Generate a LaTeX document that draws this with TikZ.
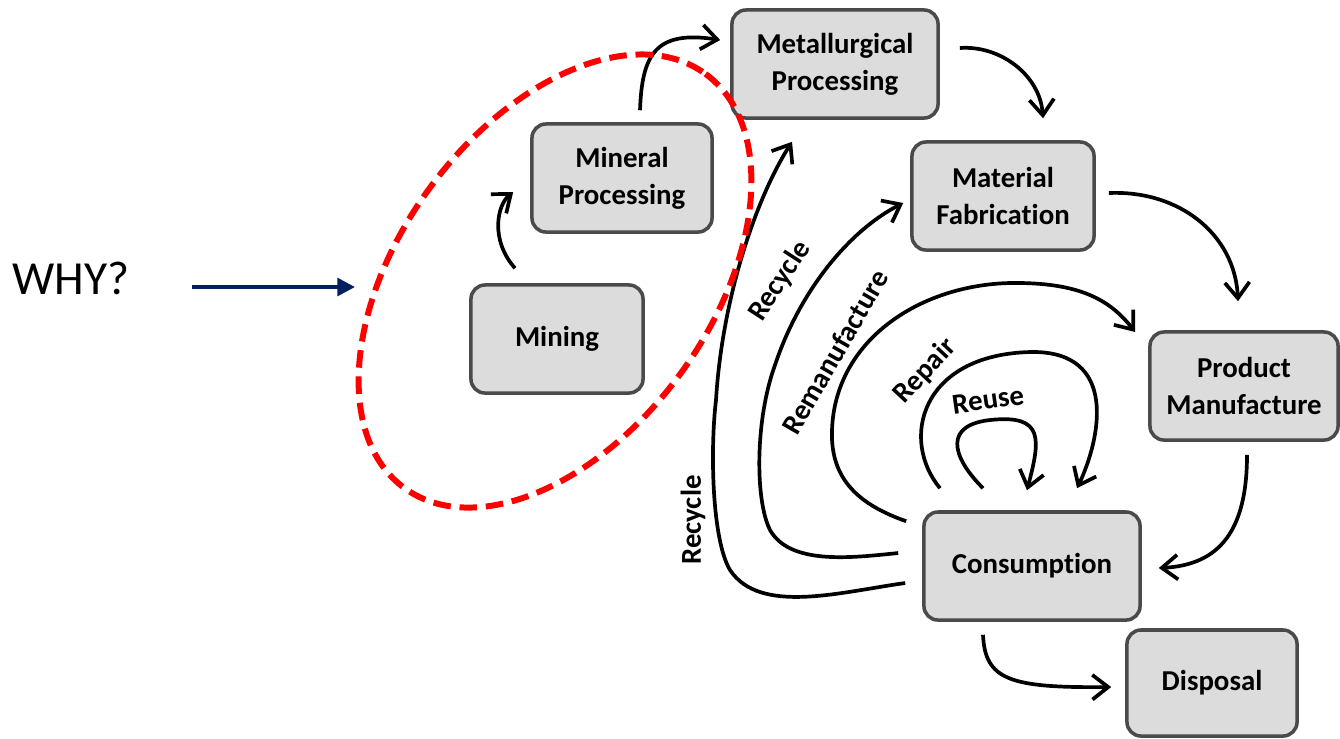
\documentclass[tikz,border=0pt]{standalone}
\usepackage{fontspec}
\setmainfont{Carlito}[Ligatures=NoCommon]
\usepackage{tikz}
\usetikzlibrary{arrows.meta, calc}
\definecolor{boxfill}{HTML}{DCDCDC}
\definecolor{boxline}{HTML}{4A4A4A}
\definecolor{whyblue}{HTML}{002060}
\tikzstyle{stage} = [rectangle, rounded corners=4pt, minimum height=1.08cm, align=center, draw=boxline, line width=1pt, fill=boxfill, font=\bfseries\fontsize{8.2}{10.5}\selectfont]
\tikzstyle{tag} = [inner sep=0pt, font=\bfseries\fontsize{8.2}{10}\selectfont]
\tikzstyle{arrow} = [line width=1.05pt, -{Straight Barb[length=4.5pt,width=7pt]}]
\tikzstyle{whyarrow} = [draw=whyblue, line width=1.1pt, -{Triangle[length=5pt,width=5pt]}]
\tikzstyle{oval} = [draw=red, line width=1.7pt, dash pattern=on 5pt off 2.5pt]

\begin{document}
\begin{tikzpicture}[x=0.01cm, y=-0.01cm]
                \useasboundingbox (0,0) rectangle (1340,738);

                \node (metal) [stage, minimum width=2.06cm] at (835,64) {Metallurgical\\Processing};
                \node (mineral) [stage, minimum width=1.80cm] at (622,178) {Mineral\\Processing};
                \node (mining) [stage, minimum width=1.72cm] at (557,339) {Mining};
                \node (fab) [stage, minimum width=1.82cm] at (1003,196) {Material\\Fabrication};
                \node (product) [stage, minimum width=1.88cm] at (1244,386) {Product\\Manufacture};
                \node (cons) [stage, minimum width=2.16cm] at (1032,566) {Consumption};
                \node (disposal) [stage, minimum width=1.70cm, minimum height=1.06cm] at (1212,683) {Disposal};

                % main chain
                \draw [arrow] ($(mining.north)+(-42,-15)$) .. controls (490,240) and (497,205) .. ($(mineral.west)+(-17,14)$);
                \draw [arrow] ($(mineral.north)+(18,-12)$) .. controls (642,55) and (655,30) .. ($(metal.west)+(-10,-24)$);
                \draw [arrow] ($(metal.east)+(20,-16)$) .. controls (1000,45) and (1040,75) .. ($(fab.north)+(40,-22)$);
                \draw [arrow] ($(fab.east)+(13,-3)$) .. controls (1180,190) and (1235,235) .. ($(product.north)+(-6,-29)$);
                \draw [arrow] ($(product.south)+(3,13)$) .. controls (1247,530) and (1220,565) .. ($(cons.east)+(17,2)$);
                \draw [arrow] ($(cons.south)+(-49,13)$) .. controls (985,680) and (1010,688) .. ($(disposal.west)+(-14,4)$);

                % loops back from consumption
                \draw [arrow] ($(cons.west)+(-17,17)$) .. controls (840,592) and (760,615) .. (730,570) .. controls (712,540) and (710,450) .. (716,400) .. controls (722,300) and (755,200) .. ($(metal.south)+(-43,22)$);
                \draw [arrow] ($(cons.west)+(-24,-13)$) .. controls (850,558) and (790,565) .. (770,530) .. controls (755,500) and (755,420) .. (775,365) .. controls (800,290) and (850,230) .. ($(fab.west)+(-7,7)$);
                \draw [arrow] ($(cons.north west)+(-16,11)$) .. controls (860,505) and (830,480) .. (832,430) .. controls (835,340) and (920,285) .. (1010,283) .. controls (1080,282) and (1110,300) .. ($(product.west)+(-13,-54)$);
                \draw [arrow] ($(cons.north)+(-92,-22)$) .. controls (900,440) and (920,355) .. (1030,352) .. controls (1120,350) and (1100,440) .. ($(cons.north)+(45,-22)$);
                \draw [arrow] ($(cons.north)+(-49,-22)$) .. controls (950,455) and (945,425) .. (990,420) .. controls (1045,414) and (1040,440) .. ($(cons.north)+(-5,-20)$);

                \node (recycleout) [tag, rotate=90] at (693,520) {Recycle};
                \node (recyclein) [tag, rotate=57] at (780,281) {Recycle};
                \node (reman) [tag, rotate=60] at (835,352) {Remanufacture};
                \node (repair) [tag, rotate=47] at (925,371) {Repair};
                \node (reuse) [tag, rotate=8] at (988,400) {Reuse};

                % the question
                \draw [oval, rotate around={54:(555,281)}] (555,281) ellipse (256 and 156);
                \node (why) [anchor=west, inner sep=0pt, font=\fontsize{13.5}{16}\selectfont] at (12,278) {WHY?};
                \coordinate (ovaltip) at (355,287);
                \draw [whyarrow] ($(why.east)+(62,9)$) -- (ovaltip);
            \end{tikzpicture}
\end{document}
